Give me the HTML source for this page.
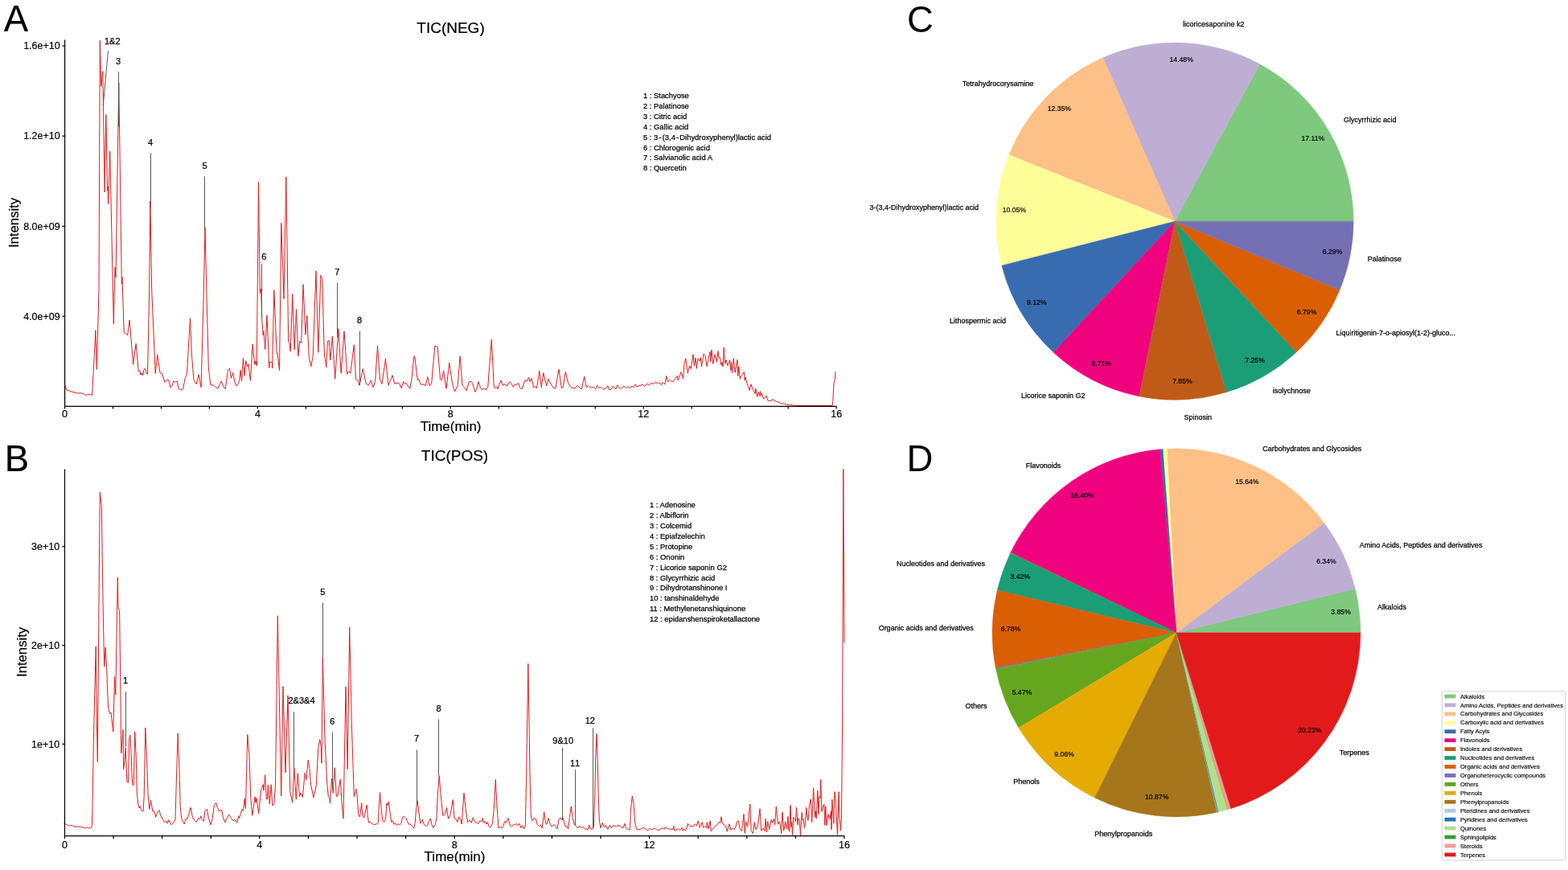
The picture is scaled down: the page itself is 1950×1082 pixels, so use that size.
<!DOCTYPE html>
<html lang="en">
<head>
<meta charset="utf-8">
<title>TIC chromatograms and compound composition</title>
<style>
html,body{margin:0;padding:0;background:#fff;}
body{width:1950px;height:1082px;overflow:hidden;}
svg{display:block;font-family:"Liberation Sans",sans-serif;}
text{fill:#000;}
#panelA text,#panelB text{stroke:#000;stroke-width:0.2px;}
.panel{font-size:45.5px;}
.title{font-size:19px;text-anchor:middle;}
.axt{font-size:17px;text-anchor:middle;}
.tk{font-size:12.5px;}
.tky{font-size:12.5px;text-anchor:end;}
.tkx{font-size:12.5px;text-anchor:middle;}
.pk{font-size:11px;text-anchor:middle;stroke-width:0.25px !important;font-kerning:none;}
.lg{font-size:9.4px;stroke-width:0.25px !important;}
.ax{stroke:#000;stroke-width:1.25;fill:none;}
.pl{stroke:#505050;stroke-width:0.95;fill:none;}
.tr{stroke:#e41a1c;stroke-width:1;fill:none;stroke-linejoin:round;stroke-linecap:round;}
.pn{font-size:9px;stroke:#000;stroke-width:0.25px;}
.pp{font-size:9.3px;text-anchor:middle;stroke:#000;stroke-width:0.2px;}
.lt{font-size:7.55px;stroke:#000;stroke-width:0.15px;}
</style>
</head>
<body>
<svg width="1950" height="1082" viewBox="0 0 1950 1082">
<rect width="1950" height="1082" fill="#fff"/>
<g id="panelA">
<text class="panel" x="4.65" y="39.2">A</text>
<text class="title" x="560.5" y="40.5">TIC(NEG)</text>
<polyline class="tr" points="81,479.6 82.8,485.1 87,486.3 92,488 97,489.1 101,488.8 104.4,490.1 107.7,491.8 109.4,490.1 114.6,491.3 116.3,460 118.9,411 120.4,459.5 123,360 124.3,50.3 125.8,107.5 127.8,88.7 130.2,239 131.8,142.5 133.6,237 134,232 134.7,254 136.7,188 141.3,402.7 143,332.5 144,345 147.8,103 151.3,353.3 152,344.7 154.2,413.2 158.6,416.9 161.1,398.1 165.6,453.3 169.1,427.4 172.3,462 174,461.2 174.8,466.2 176,463.7 177.3,467 179,459.5 180.3,458.4 182.3,464.5 183.5,465.7 185.7,360 186.8,250 188.7,360 193.2,464.5 195.7,441.1 199,463.7 201.6,464.5 204.9,475.4 207.4,472.4 209.9,472.9 212.1,482.1 214.1,479.6 215.8,473.7 217.5,475.4 220.5,474.3 222.1,483.5 225.8,485.1 227.8,483 230,471.2 232.5,464.5 234.2,435.3 236.5,396 238.4,440.3 240.9,472.1 244.2,477.6 247.2,465.9 250.1,481.8 253.4,360 255,282.8 256.8,360 259.3,457 261.8,478.8 265.1,479.1 267.6,480.4 270.7,483.5 275.2,474.1 277.7,480.4 280.2,483.8 283.5,460.4 285.4,458.2 287.4,470.4 289.7,463.7 291.9,475.4 294.4,480.1 297.8,473.7 299.1,460.4 300.6,473.7 302.4,445.3 304.1,467.1 305.8,448.7 307.5,456.2 309,452.8 311.4,473.5 314.2,428 316.7,453.5 318,449 319.3,455 321.5,226.2 323.3,364.5 324.7,359.2 325.8,398.3 327.2,416.7 328,411.7 329.7,434.7 332,392.2 334.7,457.5 335,450.3 338.3,450.3 338.7,458 340.8,360.8 344.2,440 345,439.2 347.5,460.8 349.8,277.5 353,371.7 355.8,220 358.7,425 360,426.7 361.2,437 363.7,365.8 366.2,435 368.5,384.7 370.8,442.8 372.8,424.2 374.7,426.7 377,353.7 380,416.3 381.8,392.5 384.2,443.3 386.7,455.8 389.2,443.3 393,337 395.8,438.3 398.8,342.5 400.8,347.5 403.3,440 405.8,456.7 407.5,424.2 409.2,423.3 410.8,448 413.3,418.3 416.7,471.3 420.8,408.7 424.2,464.2 428,412 431.7,465.3 434.2,461.7 435.8,464.2 440.3,428.8 442.5,471.7 445,473.3 447,479.2 451.3,458.7 455,476.7 458.3,479.2 461.3,473 464.2,481.7 466.7,473.3 469.5,430 472.5,471.7 475,477.5 479.5,446.3 483,479.2 485,474.2 488,466.7 490.8,477 495,476.3 497,477.5 499.2,482.8 501.7,474.7 503.3,477.5 505,476.3 506.7,479.2 509.7,483.3 511.7,473.3 515,442.5 515.8,443.3 519.2,472.5 520.8,471.7 523.3,478.3 526.7,478 529.2,479.7 531.7,468.7 534.2,480 536.7,476.7 540.8,430.3 544.2,431.7 547.5,471.7 549.2,473 551.7,461.2 555,483.3 558.7,451.3 562.5,476.7 565.5,486.7 569.2,479.7 572.2,442.8 575,479.2 577.5,481.7 580.3,485.8 583.3,474.7 585.8,474.2 587.5,476.7 590.8,487.5 592.5,485 595,474.7 597.5,482.5 600,484.2 602.5,483.3 604.2,485 606.7,481.7 611.3,422.2 614.2,480 615.3,483 617.5,480.8 619.2,483.7 620.8,478.3 623,473 625,479.2 627.5,478 630.8,480 633.7,474.7 635.8,476.7 638.3,481.3 640.8,477.5 642.5,478.7 644.7,476.3 646.7,482.5 649.2,483.7 652.5,473.3 655,474.2 657.5,469.2 659.2,475 660.8,470.3 663.7,481.7 665.8,480.8 667.5,482.5 670.8,461.2 673.3,481.7 675.8,463.7 679.7,480 682,471.3 685,477.5 688.3,482.5 690.8,483.3 695,459.2 698.3,482.5 700,482 703.3,462.5 706.7,476.7 710,481.7 715,483 718.3,479.2 720.8,482.5 723.3,483.7 726.7,468.3 729.2,481.7 731.7,479.7 735,482 738.3,481.7 740.8,483.7 742.5,479.2 745,482.5 747.5,481.7 750,484.2 753.3,483 755.8,479.7 757.5,484.7 760,484.2 762.5,480.3 765.8,484.2 767.8,478.7 770,482.5 772.5,483.3 775.8,480 778.3,482.5 780.8,480.8 783.3,483 785.8,480 787.5,482 790,478 791.7,480.8 795,479.7 799.2,478.3 801.7,480.8 804.7,477 806.7,479.2 810,476.3 812.5,477.5 815.8,475.3 818.3,477.5 820,475.8 822.5,478.7 824.2,475.8 826.7,478 828.7,467.5 830.3,475 832.5,472.5 836.7,475 840,470.8 842.2,467.5 843.3,473 847.2,462.5 849.7,471.3 850.8,453.3 852.8,445.8 855.3,464.2 857.5,455 859.2,458.7 862,440.8 863.3,455 865,445 866.3,458.3 868,445.8 870,449.2 871.3,444.7 872.5,455.8 875,440 877,442.5 879.2,455.8 880.8,446.7 883,437.5 883.7,450 885,435 886.7,452.5 889.2,440.8 890,444 891.4,450.5 893,436.6 894.2,445.4 895.7,444.8 896.9,454.2 898.1,450.5 899.1,456 900.2,432 901.6,452.3 903.1,447.7 905,454.7 907.6,447.7 908.9,460.7 909.4,450.5 910.5,463.9 912.2,445.9 914.2,463.4 917,447.3 917.7,467.6 918.8,456 920.3,471.3 921.9,467.6 925.4,462.7 926.2,473.1 927,469 929.7,479.1 932.1,485.6 933.9,477.8 936.2,483.8 939,489.8 939.9,483.3 941.6,493.5 943.4,487.5 944.5,492.6 945.5,486.7 946.4,493 947.3,488.9 949.6,496 951.5,494.9 953,492.1 955.2,498.6 957,498.1 958.4,499 959.8,497.2 961.6,496.7 963.9,499 966.2,499.3 968.6,500.4 971.3,502.1 975,501.8 978.7,503.6 982.4,503.2 986.1,504.1 991.7,504.5 1035.1,504.5 1035.8,498.6 1037,476.4 1038.3,472.7 1039,462.5"/>
<path class="ax" d="M80.6 49.6V505.25H1040.4"/>
<text class="tky" x="74.7" y="61.3">1.6e+10</text>
<text class="tky" x="74.7" y="173.4">1.2e+10</text>
<text class="tky" x="74.7" y="285.6">8.0e+09</text>
<text class="tky" x="74.7" y="397.7">4.0e+09</text>
<path class="ax" d="M80.5 505.25v3.3M140.5 505.25v3.3M200.5 505.25v3.3M260.4 505.25v3.3M320.4 505.25v3.3M380.4 505.25v3.3M440.4 505.25v3.3M500.4 505.25v3.3M560.3 505.25v3.3M620.3 505.25v3.3M680.3 505.25v3.3M740.3 505.25v3.3M800.3 505.25v3.3M860.2 505.25v3.3M920.2 505.25v3.3M980.2 505.25v3.3M1040.2 505.25v3.3M80.6 57.0h-3.2M80.6 169.1h-3.2M80.6 281.3h-3.2M80.6 393.4h-3.2"/>
<text class="tkx" x="80.5" y="519.4">0</text>
<text class="tkx" x="320.4" y="519.4">4</text>
<text class="tkx" x="560.3" y="519.4">8</text>
<text class="tkx" x="800.3" y="519.4">12</text>
<text class="tkx" x="1040.2" y="519.4">16</text>
<text class="axt" x="560.6" y="536.35">Time(min)</text>
<text class="axt" style="font-size:16.7px" transform="translate(23.4,277) rotate(-90)">Intensity</text>
<text class="lg" x="800" y="122.20">1 : Stachyose</text>
<text class="lg" x="800" y="135.06">2 : Palatinose</text>
<text class="lg" x="800" y="147.92">3 : Citric acid</text>
<text class="lg" x="800" y="160.78">4 : Gallic acid</text>
<text class="lg" x="800" y="173.64">5 : 3<tspan dx="1.15">-</tspan><tspan dx="1.2">(3,4</tspan><tspan dx="1.15">-</tspan><tspan dx="1.2">Dihydroxyphenyl)lactic acid</tspan></text>
<text class="lg" x="800" y="186.50">6 : Chlorogenic acid</text>
<text class="lg" x="800" y="199.36">7 : Salvianolic acid A</text>
<text class="lg" x="800" y="212.22">8 : Quercetin</text>
<line class="pl" x1="134.5" y1="63.3" x2="128.3" y2="130.8"/><text class="pk" x="139.8" y="54.7">1&amp;2</text>
<line class="pl" x1="147.5" y1="89.5" x2="147.5" y2="157.5"/><text class="pk" x="147" y="79.7">3</text>
<line class="pl" x1="187.5" y1="190.5" x2="187.5" y2="258.3"/><text class="pk" x="187" y="180.8">4</text>
<line class="pl" x1="254.5" y1="219.2" x2="254.5" y2="286.7"/><text class="pk" x="254.5" y="209.7">5</text>
<line class="pl" x1="325.5" y1="328.3" x2="325.5" y2="395.8"/><text class="pk" x="328.3" y="323.2">6</text>
<line class="pl" x1="419.5" y1="351.7" x2="419.5" y2="419.7"/><text class="pk" x="419.2" y="342.2">7</text>
<line class="pl" x1="447.5" y1="411.7" x2="447.5" y2="479.2"/><text class="pk" x="447" y="402">8</text>
</g>
<g id="panelB">
<text class="panel" x="5.85" y="586.05">B</text>
<text class="title" x="565.5" y="573.3">TIC(POS)</text>
<polyline class="tr" points="80,1024.2 83.3,1025.8 86.7,1027 90,1026.3 91.7,1028 96.7,1028.3 100,1028 103.3,1029.2 106.7,1030 108.3,1028.7 110.8,1030 113.3,1029.2 114.5,1026.7 115.3,990 116.3,923.3 119.2,804.2 120.4,900 121.3,947.5 122.6,800 123.4,700 124.3,612 126.3,628.3 127.3,700 128.6,780 129.7,829.2 131.2,805 133.1,840 133.3,851.7 134.7,880.8 136.7,887.5 138,886.3 140.8,910 142.5,841.7 143.8,864.2 146.3,718.3 147,755 148.7,760.8 150.8,936.7 153,907.5 153.7,956.7 155,946.7 156.2,930 157.8,971.7 159.5,973.3 160.8,917.5 162,914.2 164.7,975.8 166.2,976.7 167.7,910 169.2,940 170.3,985 171.7,1000 173.3,1005 174.2,1002.5 175.8,1007.5 178,1009.2 179.2,990 180.8,905 182.5,943.3 184.2,990 185.8,1006.3 187.5,995.5 190,1009.2 191.7,1008.3 193.7,1016.2 195.8,1010 198,1007.5 199.7,1014.2 202.5,1019.2 205,1022.5 206.7,1020.8 208.3,1024.2 210,1019.7 211.7,1023.3 213.3,1025.8 215.8,1023 218,1020 219.3,973.3 221.2,912 223,956.7 224.2,1003.3 225.8,1018.3 229.2,1024.7 230.8,1018.7 233.3,1018 235,1011.7 237,1004.2 239.2,1015 240.8,1019.2 244.2,1022.5 246.7,1017.5 248.3,1018.7 250,1015 251.3,1019.2 253.3,1021.3 255,1008.3 257.5,1006.3 259.2,1016.7 262,1025.8 264.2,1018.3 266.3,1001.7 268.7,998.3 270.3,1004.2 272.5,1008.3 275.8,1007.5 277.5,1016.7 280,1023 282.5,1016.7 284.7,1013.3 287.5,1017.5 290,1020.8 292,1019.2 294.7,1023.3 296.7,1015 297.5,1017.5 299.2,1012.5 300.8,1006.7 302.5,1008.3 304.2,993.3 305.5,1005.8 306.7,956.7 307.8,913.7 310,940 311.7,990 313.7,1014.2 315,1006.7 317,990.8 318,998.3 319.2,992.5 321.7,1012 324.5,983.3 327,975.8 328,983.3 329.7,963.8 331.3,993.3 332.5,994.2 333.3,976.3 335.3,1000 337.2,975.8 338.8,1002 340.8,999.2 342.5,977.5 345.3,765.8 349.7,990 352,853.8 355,960.8 358,865 360.8,985 363.7,998.3 365.8,954.7 368.3,994.2 370.3,961.7 372.5,990.8 374.2,985.8 376.3,991.3 379.2,961.3 380.8,970 383.3,945 385,956.7 386.7,976.7 390,992 390,990 391.7,985 393.3,976.7 395.8,930 397.8,919.7 399.2,928.3 400,949.2 401.3,818.7 404.2,923.3 406.7,973.3 408.3,990 409.7,992 410.5,999.2 412.5,968.3 414.2,986.3 416.3,954.7 418.3,990 419.7,990.8 421.7,978.3 423.3,969.2 425,998.3 427,1018 430,854.2 432.2,956.7 434.7,780.3 437.5,906.7 439.2,956.7 440.3,990.8 442.8,981.3 444.2,990 445.8,1014.2 447.5,1015.8 449.7,998.8 450.8,1014.2 453,1017 454.2,1010 456.2,1001.2 457.5,1016.7 458.7,1023.3 460.8,1022.5 463.3,1024.7 466.3,1025.8 468.3,1024.7 470.3,1023.3 471.3,1003.3 472.5,985.5 474.2,1006.7 475.8,1020 477.5,1022.5 479.7,1018.3 480.8,999.2 482,1001.7 483.3,997.2 485,1010 486.7,1022.5 488.3,1020.8 490,1025.3 491.7,1023.3 493.3,1026.7 495.3,1024.7 497.5,1025.8 499.2,1023.3 500.5,1016.7 502.5,1015 505,1017.5 506.7,1021.7 508.3,1025.3 510.3,1024.7 512.5,1027.5 514.7,1030 516.2,1023.3 517.5,1006.7 519.2,995.8 520.8,1010 523,1024.2 525.3,1019.2 527.5,1025.8 529.7,1027.5 531.7,1026.3 533.3,1021.7 535.3,1018 537,1025.8 538.8,1029.7 541.3,1025.8 543,1016.7 544.2,990 546.2,964.5 548.3,990 550.8,1014.2 553.3,1012.5 555.5,1004.2 557.5,1018.3 560,1013.3 563.3,994.5 565,1017.5 567,1018.3 568.7,1022.5 570.8,1015.8 572.5,1018.3 574.2,1025 577,986.3 579.2,1006.7 581.7,1022.5 584.2,1020 586.3,1023.3 588.3,1016.7 590,1021.7 592.5,1023.3 595,1024.2 596.7,1020.8 599.2,1021.7 600.3,1017.5 601.7,1023.3 603.3,1021.7 605,1025 606.3,1022.5 608.3,1028.3 610,1029.2 612.5,1024.2 614.2,1006.7 616.3,969.5 618.3,1006.7 620,1029.7 622.5,1028.3 624.2,1030 625.8,1027.5 627.5,1021.7 629.2,1023.3 632,1017.5 634.2,1026.7 636.7,1028 639.2,1025 640.8,1025.8 642.5,1024.2 644.2,1026.7 645.8,1024.2 648,1029.7 649.7,1026.7 651.7,1030.8 653.3,1027.5 654.5,973.3 656.8,825.5 659.2,973.3 660.3,1015 662,1020.8 664.2,1017.5 666.3,1018.3 668.3,1025.8 670.3,1027.5 672.5,1025.8 674.2,1030 676.7,1009.7 678.3,1023.3 680,1025.3 682,1017.5 684.2,1024.7 686.3,1028.3 688.7,1025.3 690.8,1027.5 693,1030.8 695,1019.2 697,1017 699.2,1020 700,1016.7 701.7,1023.3 703.3,1028.3 705,1027.5 706.7,1030.8 708.3,1016.7 710.3,1003 712,1016.7 714.2,1025.3 716.7,1027.5 718.7,1030 720.8,1027 723.3,1029.7 725,1028.3 727.5,1031.3 729.7,1030.8 730.8,1032.5 732.8,1026.3 734.7,1030.8 736.7,1031.3 738.3,1028.3 739.7,990 740.8,940 742,912.5 743,940 744.2,990 745.3,1020 747,1029.7 749.2,1023.3 751.3,1028.7 753.3,1026.3 755.8,1031.3 758.3,1026.3 760.3,1029.7 763,1026.3 765.3,1028 767.5,1027 770,1026.3 772.5,1028.3 774.7,1030 777,1024.2 778.3,1029.7 780.8,1031.7 783.3,1031.7 784.5,1006.7 786.3,990 788,1000 789.7,1023.3 791.7,1031.3 795,1031.7 797.5,1030.8 800,1029.2 802.5,1030.8 805.8,1032.8 808.3,1030 810.8,1032 814.2,1030 816.7,1031.7 819.2,1032.5 821.7,1030.8 824.2,1029.7 825.8,1031.7 827,1029.2 829.2,1030 831.7,1030.8 834.2,1031.3 836.7,1031.7 837.8,1027.5 838.7,1033 840.8,1031.7 843.3,1030.8 845.8,1032.5 848.3,1029.2 849.2,1033.3 850.8,1030.8 852.5,1033 854.2,1030 855.3,1024.2 857.5,1027 860,1027.5 862.5,1027.5 864.2,1024.7 866.3,1027 868.3,1020.8 870,1029.2 871.7,1026.7 873.3,1022.5 874.7,1029.2 876.7,1027.5 878.7,1029.7 879.2,1022.5 880.8,1030.8 883.3,1020.8 884.2,1033.7 886.7,1030.8 889.2,1027.5 891.7,1025.8 894.2,1022.5 895.8,1023.3 897,1015.8 898.3,1024.2 900.8,1025.8 903,1028 904.2,1034.2 907,1024.7 909.2,1032.5 911.3,1029.7 913.3,1031.7 915,1028.3 916.7,1021.7 918.3,1020.8 920.3,1031.7 922.5,1033.3 925,1012.5 926.3,1036.3 927.5,1021.7 929.7,1028.3 932.8,1000 934.2,1033.7 936.3,1036.3 938.3,1022.5 940,1031.7 942.5,1026.7 945,1005.8 946.7,1033.3 949.2,1030 950.8,1033.7 952.2,1018.3 953.3,1035 954.7,1021.7 956.7,1031.7 959.2,1019.2 960.8,1023.3 962.5,1018.3 963.7,1025.8 965.3,1003 967.5,1025 969.7,1021.7 971.7,1036.7 973,1010 974.7,1033.3 976.7,1021.7 978.7,1030.8 980,1015.4 980.6,1030.9 981.7,1034.2 983,1001.5 983.9,1028.7 984.7,1022 985.5,1038.7 986.7,1016.5 988.3,1018.7 989.4,1021.5 990.5,1004.1 992,1025.9 992.7,1017.6 994.2,1018.9 995.5,1038.9 997.2,1010.4 998,1019.8 999.1,1018.2 1000.5,1029.6 1001.6,1024.3 1002.7,1004.3 1003.5,1012.1 1004.9,1020.4 1006.6,1001 1008.3,993.8 1009.7,1022.6 1011.6,979.7 1013.5,1016.5 1014.1,1008.2 1015.3,1018.2 1016.8,983.2 1018.2,1012.6 1019,990.4 1019.9,992.7 1020.8,969.7 1021.9,1009.3 1023.8,1002.1 1024.9,1000.1 1025.7,1026.3 1026.8,1002.6 1027.9,1026.5 1029.9,1012.6 1030.8,1016.5 1032.1,1018.7 1033.4,1008.7 1034,1031.8 1034.9,994.3 1036.8,1024.3 1038,984.6 1039.3,997.6 1041.5,1038.9 1043.2,984.6 1044.1,1017.6 1045.6,1033.1 1046.5,1017.6 1047.6,900 1048.8,583.5 1050,799"/>
<path class="ax" d="M80.45 583.4V1039.7H1050.3"/>
<text class="tky" x="74.2" y="683.8">3e+10</text>
<text class="tky" x="74.2" y="806.8">2e+10</text>
<text class="tky" x="74.2" y="929.6999999999999">1e+10</text>
<path class="ax" d="M80.4 1039.7v3.3M141 1039.7v3.3M201.6 1039.7v3.3M262.2 1039.7v3.3M322.8 1039.7v3.3M383.4 1039.7v3.3M444 1039.7v3.3M504.6 1039.7v3.3M565.2 1039.7v3.3M625.8 1039.7v3.3M686.4 1039.7v3.3M747 1039.7v3.3M807.6 1039.7v3.3M868.2 1039.7v3.3M928.8 1039.7v3.3M989.4 1039.7v3.3M1050 1039.7v3.3M80.45 679.5h-3.2M80.45 802.5h-3.2M80.45 925.4h-3.2"/>
<text class="tkx" x="80.4" y="1054.7">0</text>
<text class="tkx" x="322.8" y="1054.7">4</text>
<text class="tkx" x="565.2" y="1054.7">8</text>
<text class="tkx" x="807.6" y="1054.7">12</text>
<text class="tkx" x="1050" y="1054.7">16</text>
<text class="axt" x="565.55" y="1071.4">Time(min)</text>
<text class="axt" style="font-size:16.7px" transform="translate(32.8,810.9) rotate(-90)">Intensity</text>
<text class="lg" x="808" y="631.40">1 : Adenosine</text>
<text class="lg" x="808" y="644.28">2 : Albiflorin</text>
<text class="lg" x="808" y="657.16">3 : Colcemid</text>
<text class="lg" x="808" y="670.04">4 : Epiafzelechin</text>
<text class="lg" x="808" y="682.92">5 : Protopine</text>
<text class="lg" x="808" y="695.80">6 : Ononin</text>
<text class="lg" x="808" y="708.68">7 : Licorice saponin G2</text>
<text class="lg" x="808" y="721.56">8 : Glycyrrhizic acid</text>
<text class="lg" x="808" y="734.44">9 : Dihydrotanshinone I</text>
<text class="lg" x="808" y="747.32">10 : tanshinaldehyde</text>
<text class="lg" x="808" y="760.20">11 : Methylenetanshiquinone</text>
<text class="lg" x="808" y="773.08">12 : epidanshenspiroketallactone</text>
<line class="pl" x1="156.5" y1="860" x2="156.5" y2="929.2"/><text class="pk" x="156" y="849.7">1</text>
<line class="pl" x1="365.5" y1="885" x2="365.5" y2="954.7"/><text class="pk" x="375" y="875">2&amp;3&amp;4</text>
<line class="pl" x1="401.5" y1="749.5" x2="401.5" y2="818.7"/><text class="pk" x="401.2" y="739.7">5</text>
<line class="pl" x1="413.5" y1="910.8" x2="413.5" y2="980"/><text class="pk" x="413.3" y="901.3">6</text>
<line class="pl" x1="518.5" y1="932.5" x2="518.5" y2="1000.8"/><text class="pk" x="518" y="922">7</text>
<line class="pl" x1="545.5" y1="894.5" x2="545.5" y2="964.2"/><text class="pk" x="545.5" y="885">8</text>
<line class="pl" x1="699.5" y1="930" x2="699.5" y2="1020"/><text class="pk" x="700.2" y="925">9&amp;10</text>
<line class="pl" x1="715.5" y1="957.2" x2="715.5" y2="1026.7"/><text class="pk" x="715" y="952.8">11</text>
<line class="pl" x1="737.5" y1="905.3" x2="737.5" y2="1030"/><text class="pk" x="733.8" y="900">12</text>
</g>
<g id="panelC">
<text class="panel" x="1128.1" y="39.8">C</text>
<path d="M1461.0 275.15L1683.20 275.15A222.2 222.2 0 0 0 1566.70 79.70Z" fill="#7fc97f" stroke="#7fc97f" stroke-width="0.4"/>
<path d="M1461.0 275.15L1566.70 79.70A222.2 222.2 0 0 0 1371.60 71.73Z" fill="#beaed4" stroke="#beaed4" stroke-width="0.4"/>
<path d="M1461.0 275.15L1371.60 71.73A222.2 222.2 0 0 0 1254.71 192.57Z" fill="#fdc086" stroke="#fdc086" stroke-width="0.4"/>
<path d="M1461.0 275.15L1254.71 192.57A222.2 222.2 0 0 0 1245.75 330.27Z" fill="#ffff99" stroke="#ffff99" stroke-width="0.4"/>
<path d="M1461.0 275.15L1245.75 330.27A222.2 222.2 0 0 0 1310.02 438.17Z" fill="#386cb0" stroke="#386cb0" stroke-width="0.4"/>
<path d="M1461.0 275.15L1310.02 438.17A222.2 222.2 0 0 0 1416.90 492.93Z" fill="#f0027f" stroke="#f0027f" stroke-width="0.4"/>
<path d="M1461.0 275.15L1416.90 492.93A222.2 222.2 0 0 0 1525.27 487.85Z" fill="#bf5b17" stroke="#bf5b17" stroke-width="0.4"/>
<path d="M1461.0 275.15L1525.27 487.85A222.2 222.2 0 0 0 1612.29 437.89Z" fill="#1b9e77" stroke="#1b9e77" stroke-width="0.4"/>
<path d="M1461.0 275.15L1612.29 437.89A222.2 222.2 0 0 0 1666.07 360.70Z" fill="#d95f02" stroke="#d95f02" stroke-width="0.4"/>
<path d="M1461.0 275.15L1666.07 360.70A222.2 222.2 0 0 0 1683.20 275.15Z" fill="#7570b3" stroke="#7570b3" stroke-width="0.4"/>
<text class="pn" x="1671.0" y="151.7" text-anchor="start">Glycyrrhizic acid</text>
<text class="pp" transform="translate(1632.8,174.7) scale(0.93,1)">17.11%</text>
<text class="pn" x="1471.0" y="32.6" text-anchor="start">licoricesaponine k2</text>
<text class="pp" transform="translate(1469.2,77.2) scale(0.93,1)">14.48%</text>
<text class="pn" x="1285.3" y="106.9" text-anchor="end">Tetrahydrocorysamine</text>
<text class="pp" transform="translate(1317.3,138.0) scale(0.93,1)">12.35%</text>
<text class="pn" x="1217.1" y="260.9" text-anchor="end">3-(3,4-Dihydroxyphenyl)lactic acid</text>
<text class="pp" transform="translate(1261.4,264.1) scale(0.93,1)">10.05%</text>
<text class="pn" x="1251.0" y="401.9" text-anchor="end">Lithospermic acid</text>
<text class="pp" transform="translate(1289.2,379.4) scale(0.93,1)">9.12%</text>
<text class="pn" x="1349.6" y="495.2" text-anchor="end">Licorice saponin G2</text>
<text class="pp" transform="translate(1369.8,455.0) scale(0.93,1)">8.71%</text>
<text class="pn" x="1472.4" y="521.6" text-anchor="start">Spinosin</text>
<text class="pp" transform="translate(1470.4,476.8) scale(0.93,1)">7.85%</text>
<text class="pn" x="1582.7" y="489.1" text-anchor="start">isolychnose</text>
<text class="pp" transform="translate(1560.6,450.5) scale(0.93,1)">7.25%</text>
<text class="pn" x="1661.5" y="416.5" text-anchor="start">Liquiritigenin-7-o-apiosyl(1-2)-gluco...</text>
<text class="pp" transform="translate(1625.1,391.4) scale(0.93,1)">6.79%</text>
<text class="pn" x="1700.7" y="325.1" text-anchor="start">Palatinose</text>
<text class="pp" transform="translate(1657.1,316.3) scale(0.93,1)">6.29%</text>
</g>
<g id="panelD">
<text class="panel" x="1127.4" y="586">D</text>
<path d="M1463.0 786.9L1692.00 786.90A229.0 229.0 0 0 0 1685.34 732.08Z" fill="#7fc97f" stroke="#7fc97f" stroke-width="0.4"/>
<path d="M1463.0 786.9L1685.34 732.08A229.0 229.0 0 0 0 1646.70 650.17Z" fill="#beaed4" stroke="#beaed4" stroke-width="0.4"/>
<path d="M1463.0 786.9L1646.70 650.17A229.0 229.0 0 0 0 1451.29 558.20Z" fill="#fdc086" stroke="#fdc086" stroke-width="0.4"/>
<path d="M1463.0 786.9L1451.29 558.20A229.0 229.0 0 0 0 1446.12 558.52Z" fill="#ffff99" stroke="#ffff99" stroke-width="0.4"/>
<path d="M1463.0 786.9L1446.12 558.52A229.0 229.0 0 0 0 1442.39 558.83Z" fill="#386cb0" stroke="#386cb0" stroke-width="0.4"/>
<path d="M1463.0 786.9L1442.39 558.83A229.0 229.0 0 0 0 1256.88 687.12Z" fill="#f0027f" stroke="#f0027f" stroke-width="0.4"/>
<path d="M1463.0 786.9L1256.88 687.12A229.0 229.0 0 0 0 1256.57 687.76Z" fill="#bf5b17" stroke="#bf5b17" stroke-width="0.4"/>
<path d="M1463.0 786.9L1256.57 687.76A229.0 229.0 0 0 0 1240.19 734.03Z" fill="#1b9e77" stroke="#1b9e77" stroke-width="0.4"/>
<path d="M1463.0 786.9L1240.19 734.03A229.0 229.0 0 0 0 1238.24 830.77Z" fill="#d95f02" stroke="#d95f02" stroke-width="0.4"/>
<path d="M1463.0 786.9L1238.24 830.77A229.0 229.0 0 0 0 1238.52 832.18Z" fill="#7570b3" stroke="#7570b3" stroke-width="0.4"/>
<path d="M1463.0 786.9L1238.52 832.18A229.0 229.0 0 0 0 1266.88 905.14Z" fill="#66a61e" stroke="#66a61e" stroke-width="0.4"/>
<path d="M1463.0 786.9L1266.88 905.14A229.0 229.0 0 0 0 1361.47 992.16Z" fill="#e6ab02" stroke="#e6ab02" stroke-width="0.4"/>
<path d="M1463.0 786.9L1361.47 992.16A229.0 229.0 0 0 0 1513.70 1010.22Z" fill="#a6761d" stroke="#a6761d" stroke-width="0.4"/>
<path d="M1463.0 786.9L1513.70 1010.22A229.0 229.0 0 0 0 1514.26 1010.09Z" fill="#a6cee3" stroke="#a6cee3" stroke-width="0.4"/>
<path d="M1463.0 786.9L1514.26 1010.09A229.0 229.0 0 0 0 1515.38 1009.83Z" fill="#1f78b4" stroke="#1f78b4" stroke-width="0.4"/>
<path d="M1463.0 786.9L1515.38 1009.83A229.0 229.0 0 0 0 1526.78 1006.84Z" fill="#b2df8a" stroke="#b2df8a" stroke-width="0.4"/>
<path d="M1463.0 786.9L1526.78 1006.84A229.0 229.0 0 0 0 1526.92 1006.80Z" fill="#33a02c" stroke="#33a02c" stroke-width="0.4"/>
<path d="M1463.0 786.9L1526.92 1006.80A229.0 229.0 0 0 0 1530.78 1005.64Z" fill="#fb9a99" stroke="#fb9a99" stroke-width="0.4"/>
<path d="M1463.0 786.9L1530.78 1005.64A229.0 229.0 0 0 0 1692.00 786.90Z" fill="#e31a1c" stroke="#e31a1c" stroke-width="0.4"/>
<text class="pn" x="1713.1" y="758.1" text-anchor="start">Alkaloids</text>
<text class="pp" transform="translate(1667.6,763.9) scale(0.93,1)">3.85%</text>
<text class="pn" x="1690.8" y="681.3" text-anchor="start">Amino Acids, Peptides and derivatives</text>
<text class="pp" transform="translate(1649.4,700.9) scale(0.93,1)">6.34%</text>
<text class="pn" x="1570.3" y="560.9" text-anchor="start">Carbohydrates and Glycosides</text>
<text class="pp" transform="translate(1550.8,602.3) scale(0.93,1)">15.64%</text>
<text class="pn" x="1319.2" y="581.5" text-anchor="end">Flavonoids</text>
<text class="pp" transform="translate(1345.8,619.3) scale(0.93,1)">16.40%</text>
<text class="pn" x="1225.0" y="704.4" text-anchor="end">Nucleotides and derivatives</text>
<text class="pp" transform="translate(1268.7,720.0) scale(0.93,1)">3.42%</text>
<text class="pn" x="1210.7" y="783.9" text-anchor="end">Organic acids and derivatives</text>
<text class="pp" transform="translate(1256.9,784.7) scale(0.93,1)">6.78%</text>
<text class="pn" x="1227.6" y="880.5" text-anchor="end">Others</text>
<text class="pp" transform="translate(1270.9,863.5) scale(0.93,1)">5.47%</text>
<text class="pn" x="1292.7" y="974.9" text-anchor="end">Phenols</text>
<text class="pp" transform="translate(1323.5,940.5) scale(0.93,1)">9.06%</text>
<text class="pn" x="1433.3" y="1039.8" text-anchor="end">Phenylpropanoids</text>
<text class="pp" transform="translate(1438.7,993.5) scale(0.93,1)">10.87%</text>
<text class="pn" x="1665.8" y="939.2" text-anchor="start">Terpenes</text>
<text class="pp" transform="translate(1628.9,911.1) scale(0.93,1)">20.23%</text>
<rect x="1793.3" y="859.9" width="153.4" height="210" rx="1.5" fill="#fff" fill-opacity="0.8" stroke="#ccc" stroke-width="0.9"/>
<rect x="1796.5" y="863.60" width="14" height="4.8" fill="#7fc97f"/><text class="lt" x="1816" y="868.60">Alkaloids</text>
<rect x="1796.5" y="874.54" width="14" height="4.8" fill="#beaed4"/><text class="lt" x="1816" y="879.54">Amino Acids, Peptides and derivatives</text>
<rect x="1796.5" y="885.48" width="14" height="4.8" fill="#fdc086"/><text class="lt" x="1816" y="890.48">Carbohydrates and Glycosides</text>
<rect x="1796.5" y="896.42" width="14" height="4.8" fill="#ffff99"/><text class="lt" x="1816" y="901.42">Carboxylic acid and derivatives</text>
<rect x="1796.5" y="907.36" width="14" height="4.8" fill="#386cb0"/><text class="lt" x="1816" y="912.36">Fatty Acyls</text>
<rect x="1796.5" y="918.30" width="14" height="4.8" fill="#f0027f"/><text class="lt" x="1816" y="923.30">Flavonoids</text>
<rect x="1796.5" y="929.24" width="14" height="4.8" fill="#bf5b17"/><text class="lt" x="1816" y="934.24">Indoles and derivatives</text>
<rect x="1796.5" y="940.18" width="14" height="4.8" fill="#1b9e77"/><text class="lt" x="1816" y="945.18">Nucleotides and derivatives</text>
<rect x="1796.5" y="951.12" width="14" height="4.8" fill="#d95f02"/><text class="lt" x="1816" y="956.12">Organic acids and derivatives</text>
<rect x="1796.5" y="962.06" width="14" height="4.8" fill="#7570b3"/><text class="lt" x="1816" y="967.06">Organoheterocyclic compounds</text>
<rect x="1796.5" y="973.00" width="14" height="4.8" fill="#66a61e"/><text class="lt" x="1816" y="978.00">Others</text>
<rect x="1796.5" y="983.94" width="14" height="4.8" fill="#e6ab02"/><text class="lt" x="1816" y="988.94">Phenols</text>
<rect x="1796.5" y="994.88" width="14" height="4.8" fill="#a6761d"/><text class="lt" x="1816" y="999.88">Phenylpropanoids</text>
<rect x="1796.5" y="1005.82" width="14" height="4.8" fill="#a6cee3"/><text class="lt" x="1816" y="1010.82">Pteridines and derivatives</text>
<rect x="1796.5" y="1016.76" width="14" height="4.8" fill="#1f78b4"/><text class="lt" x="1816" y="1021.76">Pyridines and derivatives</text>
<rect x="1796.5" y="1027.70" width="14" height="4.8" fill="#b2df8a"/><text class="lt" x="1816" y="1032.70">Quinones</text>
<rect x="1796.5" y="1038.64" width="14" height="4.8" fill="#33a02c"/><text class="lt" x="1816" y="1043.64">Sphingolipids</text>
<rect x="1796.5" y="1049.58" width="14" height="4.8" fill="#fb9a99"/><text class="lt" x="1816" y="1054.58">Steroids</text>
<rect x="1796.5" y="1060.52" width="14" height="4.8" fill="#e31a1c"/><text class="lt" x="1816" y="1065.52">Terpenes</text>
</g>
</svg>
</body>
</html>
